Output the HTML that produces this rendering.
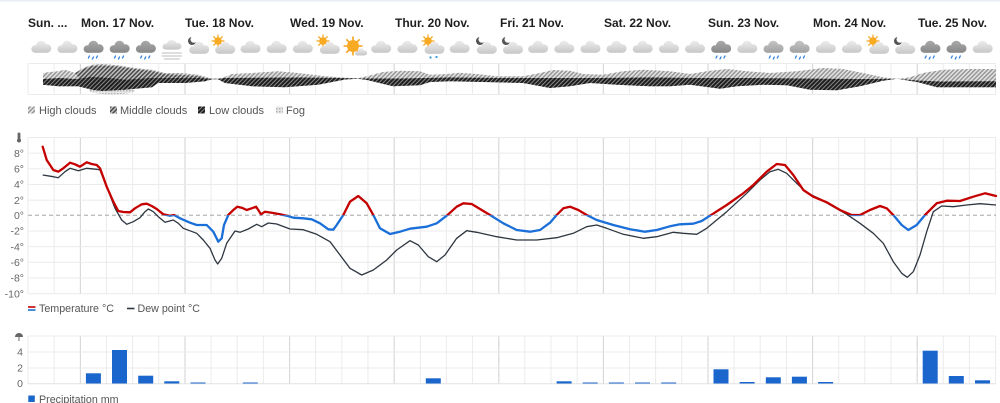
<!DOCTYPE html>
<html><head><meta charset="utf-8"><style>
html,body{margin:0;padding:0;background:#fff;}
body{width:1000px;height:403px;overflow:hidden;}
svg{display:block;font-family:"Liberation Sans",Arial,sans-serif;}
</style></head><body>
<svg width="1000" height="403" viewBox="0 0 1000 403" xmlns="http://www.w3.org/2000/svg">
<defs>
<linearGradient id="gl" gradientUnits="userSpaceOnUse" x1="0" y1="-6" x2="0" y2="6"><stop offset="0" stop-color="#ececec"/><stop offset="1" stop-color="#c6c6c6"/></linearGradient>
<linearGradient id="gd" gradientUnits="userSpaceOnUse" x1="0" y1="-6" x2="0" y2="6"><stop offset="0" stop-color="#a9a9a9"/><stop offset="1" stop-color="#878787"/></linearGradient>
<linearGradient id="gm" gradientUnits="userSpaceOnUse" x1="0" y1="-6" x2="0" y2="6"><stop offset="0" stop-color="#c4c4c4"/><stop offset="1" stop-color="#a0a0a0"/></linearGradient>
<g id="c"><circle cx="-6" cy="2" r="3.8" fill="url(#gl)"/><circle cx="0" cy="-1" r="5.2" fill="url(#gl)"/><circle cx="6" cy="1.5" r="4.2" fill="url(#gl)"/><rect x="-6" y="1.5" width="12" height="4.3" fill="url(#gl)"/></g>
<g id="cd"><circle cx="-6" cy="2" r="3.8" fill="url(#gd)"/><circle cx="0" cy="-1" r="5.2" fill="url(#gd)"/><circle cx="6" cy="1.5" r="4.2" fill="url(#gd)"/><rect x="-6" y="1.5" width="12" height="4.3" fill="url(#gd)"/></g>
<g id="cm"><circle cx="-6" cy="2" r="3.8" fill="url(#gm)"/><circle cx="0" cy="-1" r="5.2" fill="url(#gm)"/><circle cx="6" cy="1.5" r="4.2" fill="url(#gm)"/><rect x="-6" y="1.5" width="12" height="4.3" fill="url(#gm)"/></g>
<g id="rd" stroke="#2f7fe0" stroke-width="1.3" stroke-linecap="round"><line x1="-4" y1="9" x2="-5" y2="11"/><line x1="0" y1="10" x2="-1" y2="12"/><line x1="4" y1="9" x2="3" y2="11"/></g>
<g id="sun"><g stroke="#f5a21b" stroke-width="1.2"><line x1="0" y1="-6.5" x2="0" y2="6.5"/><line x1="-6.5" y1="0" x2="6.5" y2="0"/><line x1="-4.6" y1="-4.6" x2="4.6" y2="4.6"/><line x1="-4.6" y1="4.6" x2="4.6" y2="-4.6"/></g><circle r="3.8" fill="#f7aa22"/></g>
<g id="moon"><circle r="4" fill="#555"/><circle cx="1.9" cy="-1.6" r="3.4" fill="#fff"/></g>
<pattern id="ph" width="3" height="3" patternUnits="userSpaceOnUse" patternTransform="rotate(45)"><rect width="3" height="3" fill="#e4e4e4"/><rect width="1.5" height="3" fill="#979797"/></pattern>
<pattern id="pm" width="3" height="3" patternUnits="userSpaceOnUse" patternTransform="rotate(45)"><rect width="3" height="3" fill="#c8c8c8"/><rect width="1.6" height="3" fill="#4a4a4a"/></pattern>
<pattern id="pl" width="3" height="3" patternUnits="userSpaceOnUse" patternTransform="rotate(45)"><rect width="3" height="3" fill="#8a8a8a"/><rect width="2" height="3" fill="#1e1e1e"/></pattern>
<pattern id="pf" width="3" height="3" patternUnits="userSpaceOnUse"><rect width="3" height="3" fill="#e6e6e6"/><rect width="1.5" height="1.5" fill="#b4b4b4"/></pattern>
<g id="vl" fill="#ebebeb">
<rect x="27.5" y="0" width="1" height="1"/><rect x="53.65" y="0" width="1" height="1"/><rect x="105.95" y="0" width="1" height="1"/><rect x="132.1" y="0" width="1" height="1"/><rect x="158.25" y="0" width="1" height="1"/><rect x="210.55" y="0" width="1" height="1"/><rect x="236.7" y="0" width="1" height="1"/><rect x="262.85" y="0" width="1" height="1"/><rect x="315.15" y="0" width="1" height="1"/><rect x="341.3" y="0" width="1" height="1"/><rect x="367.45" y="0" width="1" height="1"/><rect x="419.75" y="0" width="1" height="1"/><rect x="445.9" y="0" width="1" height="1"/><rect x="472.05" y="0" width="1" height="1"/><rect x="524.35" y="0" width="1" height="1"/><rect x="550.5" y="0" width="1" height="1"/><rect x="576.65" y="0" width="1" height="1"/><rect x="628.95" y="0" width="1" height="1"/><rect x="655.1" y="0" width="1" height="1"/><rect x="681.25" y="0" width="1" height="1"/><rect x="733.55" y="0" width="1" height="1"/><rect x="759.7" y="0" width="1" height="1"/><rect x="785.85" y="0" width="1" height="1"/><rect x="838.15" y="0" width="1" height="1"/><rect x="864.3" y="0" width="1" height="1"/><rect x="890.45" y="0" width="1" height="1"/><rect x="942.75" y="0" width="1" height="1"/><rect x="968.9" y="0" width="1" height="1"/><rect x="995.05" y="0" width="1" height="1"/>
<g fill="#d9d9d9"><rect x="79.8" y="0" width="1.2" height="1"/><rect x="184.4" y="0" width="1.2" height="1"/><rect x="289" y="0" width="1.2" height="1"/><rect x="393.6" y="0" width="1.2" height="1"/><rect x="498.2" y="0" width="1.2" height="1"/><rect x="602.8" y="0" width="1.2" height="1"/><rect x="707.4" y="0" width="1.2" height="1"/><rect x="812" y="0" width="1.2" height="1"/><rect x="916.6" y="0" width="1.2" height="1"/></g>
</g>
<clipPath id="above"><rect x="0" y="0" width="1000" height="215.3"/></clipPath>
<clipPath id="below"><rect x="0" y="215.3" width="1000" height="200"/></clipPath>
</defs>

<rect x="0" y="0" width="1000" height="1.5" fill="#e9eef6"/>

<!-- Day labels -->
<g font-size="12" font-weight="bold" fill="#1f1f1f">
<text x="28" y="27">Sun. ...</text>
<text x="81" y="27">Mon. 17 Nov.</text>
<text x="185" y="27">Tue. 18 Nov.</text>
<text x="290" y="27">Wed. 19 Nov.</text>
<text x="395" y="27">Thur. 20 Nov.</text>
<text x="500" y="27">Fri. 21 Nov.</text>
<text x="604" y="27">Sat. 22 Nov.</text>
<text x="708" y="27">Sun. 23 Nov.</text>
<text x="813" y="27">Mon. 24 Nov.</text>
<text x="918" y="27">Tue. 25 Nov.</text>
</g>

<!-- Icons -->
<use href="#c" x="41.1" y="47"/>
<use href="#c" x="67.2" y="47"/>
<use href="#cd" x="93.4" y="47"/><use href="#rd" x="93.4" y="47"/>
<use href="#cd" x="119.5" y="47"/><use href="#rd" x="119.5" y="47"/>
<use href="#cd" x="145.7" y="47"/><use href="#rd" x="145.7" y="47"/>
<g transform="translate(171.8,45)"><use href="#c" transform="scale(0.95,0.8)"/><g stroke="#c9c9c9" stroke-width="1.2"><line x1="-10" y1="8" x2="10" y2="8"/><line x1="-10" y1="11" x2="10" y2="11"/><line x1="-8" y1="14" x2="8" y2="14"/></g></g>
<use href="#moon" x="192" y="41"/><use href="#c" x="199" y="48"/>
<use href="#sun" x="218" y="41" transform="scale(1)"/><use href="#c" x="225" y="48"/>
<use href="#c" x="250.3" y="47"/>
<use href="#c" x="276.4" y="47"/>
<use href="#c" x="302.6" y="47"/>
<use href="#sun" x="323" y="41"/><use href="#c" x="329.7" y="48"/>
<g transform="translate(353,46)"><g stroke="#f5a21b" stroke-width="1.6"><line x1="0" y1="-9.5" x2="0" y2="9.5"/><line x1="-9.5" y1="0" x2="9.5" y2="0"/><line x1="-6.7" y1="-6.7" x2="6.7" y2="6.7"/><line x1="-6.7" y1="6.7" x2="6.7" y2="-6.7"/></g><circle r="6" fill="#f7aa22"/></g>
<use href="#c" transform="translate(361,52) scale(0.6)"/>
<use href="#c" x="381" y="47"/>
<use href="#c" x="407.2" y="47"/>
<use href="#sun" x="428" y="41"/><use href="#c" x="434.3" y="48"/><circle cx="430.5" cy="57.5" r="1.1" fill="#2f9be8"/><circle cx="436.5" cy="57" r="1.1" fill="#2f9be8"/>
<use href="#c" x="459.5" y="47"/>
<use href="#moon" x="480" y="41"/><use href="#c" x="486.6" y="48"/>
<use href="#moon" x="506" y="41"/><use href="#c" x="512.8" y="48"/>
<use href="#c" x="537.9" y="47"/>
<use href="#c" x="564.1" y="47"/>
<use href="#c" x="590.2" y="47"/>
<use href="#c" x="616.4" y="47"/>
<use href="#c" x="642.5" y="47"/>
<use href="#c" x="668.7" y="47"/>
<use href="#c" x="694.8" y="47"/>
<use href="#cd" x="721" y="47"/><use href="#rd" x="721" y="47"/>
<use href="#c" x="747.1" y="47"/>
<use href="#cm" x="773.3" y="47"/><use href="#rd" x="774.3" y="47"/>
<use href="#cm" x="799.4" y="47"/><use href="#rd" x="800.4" y="47"/>
<use href="#c" x="825.6" y="47"/>
<use href="#c" x="851.7" y="47"/>
<use href="#sun" x="873" y="41"/><use href="#c" x="879" y="48"/>
<use href="#moon" x="898" y="41"/><use href="#c" x="905" y="48"/>
<use href="#cd" x="930.2" y="47"/><use href="#rd" x="930.2" y="47"/>
<use href="#cd" x="956.3" y="47"/><use href="#rd" x="956.3" y="47"/>
<use href="#c" x="982.5" y="47"/>

<!-- Cloud band -->
<use href="#vl" transform="translate(0,63) scale(1,31)"/>
<line x1="28" y1="63.5" x2="996" y2="63.5" stroke="#ebebeb" stroke-width="1"/>
<line x1="28" y1="94.5" x2="996" y2="94.5" stroke="#ebebeb" stroke-width="1"/>
<ellipse cx="112" cy="90.5" rx="23" ry="3.8" fill="url(#pf)"/>
<path fill="url(#ph)" d="M43,79 L43,73 L50,72 L58,71.3 L65,69.7 L75,73 L83,68 L92,64.7 L102,64 L118,65.3 L135,68 L152,69.7 L165,73 L182,73 L198,74.7 L207,77.3 L212,78.7 L218,78.8 L222,78 L232,74 L252,73 L278,71.3 L298,73 L325,76.3 L345,77.8 L358,78.3 L367,76.3 L383,72 L400,70.7 L420,71.3 L430,74.7 L447,74 L460,72.7 L477,74 L497,76.3 L523,76.3 L540,73 L553,70 L570,70.7 L583,74 L603,74.7 L623,71.3 L643,69.7 L670,71.3 L690,74 L710,70.7 L727,69 L747,71.3 L770,73 L797,71.3 L823,68 L843,69 L863,73 L883,77.3 L897,79 L910,77.3 L923,73 L943,69.7 L970,69 L996,69 L996,87.3 L937,87.3 L917,82 L897,78.7 L883,80.7 L860,86.3 L837,90.3 L810,89.7 L787,85.3 L763,84.7 L737,86.3 L720,88.7 L690,84.7 L670,86.3 L650,86.3 L617,84.7 L590,83 L570,86.3 L550,88 L523,83 L483,82 L450,81.3 L430,82 L420,85.3 L393,86.3 L367,80 L358,78.8 L345,79.5 L318,84.7 L285,87.3 L252,86.3 L225,83 L218,79.2 L212,79.3 L205,81.3 L185,83 L158,83 L152,87.3 L125,89.7 L102,91 L92,89.7 L78,86.3 L58,86.3 L43,84.7 Z"/>
<path fill="url(#pm)" d="M75,73 L83,69 L92,66 L102,65.5 L118,66.5 L135,69 L152,71 L165,74 L182,75 L198,76 L205,78 L198,79 L165,79 L150,79.5 L125,80 L100,79 L80,79 Z"/>
<path fill="url(#pl)" d="M43,79 L60,78 L75,79 L92,77 L110,78 L125,79.7 L150,78 L200,78 L208,78.5 L212,78.8 L218,78.8 L225,78 L300,77.5 L340,78 L358,78.5 L367,78.5 L400,78.5 L450,77.5 L500,78 L550,78 L600,78 L650,77.5 L700,78 L750,78 L800,78.5 L860,79 L897,78.8 L917,80.5 L940,81.5 L996,81.3 L996,87.3 L937,87.3 L917,82 L897,78.7 L883,80.7 L860,86.3 L837,90.3 L810,89.7 L787,85.3 L763,84.7 L737,86.3 L720,88.7 L690,84.7 L670,86.3 L650,86.3 L617,84.7 L590,83 L570,86.3 L550,88 L523,83 L483,82 L450,81.3 L430,82 L420,85.3 L393,86.3 L367,80 L358,78.8 L345,79.5 L318,84.7 L285,87.3 L252,86.3 L225,83 L218,79.2 L212,79.3 L205,81.3 L185,83 L158,83 L152,87.3 L125,89.7 L102,91 L92,89.7 L78,86.3 L58,86.3 L43,84.7 Z"/>

<!-- Cloud legend -->
<rect x="28" y="106.5" width="7" height="7" fill="url(#ph)"/>
<rect x="110" y="106.5" width="7" height="7" fill="url(#pm)"/>
<rect x="198" y="106.5" width="7" height="7" fill="url(#pl)"/>
<rect x="276" y="106.5" width="7" height="7" fill="url(#pf)"/>
<g font-size="11" fill="#555">
<text x="39" y="114">High clouds</text>
<text x="120" y="114">Middle clouds</text>
<text x="209" y="114">Low clouds</text>
<text x="286" y="114">Fog</text>
</g>

<!-- Temperature chart grid -->
<use href="#vl" transform="translate(0,137.5) scale(1,156.2)"/>
<g stroke="#ebebeb" stroke-width="1">
<line x1="28" y1="137.5" x2="996" y2="137.5"/><line x1="28" y1="153.1" x2="996" y2="153.1"/><line x1="28" y1="168.8" x2="996" y2="168.8"/><line x1="28" y1="184.5" x2="996" y2="184.5"/><line x1="28" y1="200.1" x2="996" y2="200.1"/><line x1="28" y1="231" x2="996" y2="231"/><line x1="28" y1="246.6" x2="996" y2="246.6"/><line x1="28" y1="262.3" x2="996" y2="262.3"/><line x1="28" y1="278" x2="996" y2="278"/><line x1="28" y1="293.7" x2="996" y2="293.7"/>
</g>
<line x1="28" y1="215.3" x2="996" y2="215.3" stroke="#bdbdbd" stroke-width="1.3" stroke-dasharray="4,3"/>
<g font-size="10.5" fill="#666" text-anchor="end">
<text x="24" y="157">8°</text><text x="24" y="172.5">6°</text><text x="24" y="188.2">4°</text><text x="24" y="203.8">2°</text><text x="24" y="219">0°</text><text x="24" y="234.7">-2°</text><text x="24" y="250.3">-4°</text><text x="24" y="266">-6°</text><text x="24" y="281.7">-8°</text><text x="24" y="297.4">-10°</text>
</g>
<rect x="17.6" y="132.5" width="2.8" height="7" rx="1.4" fill="#666"/><circle cx="19" cy="140.5" r="2" fill="#666"/>

<!-- Dew point -->
<path fill="none" stroke="#2e3640" stroke-width="1.3" stroke-linejoin="round" d="M42.7,175 L53.3,176.7 L58.3,177.7 L65,171.7 L70,168.3 L78.3,170.7 L86.7,168.3 L96.7,169.3 L100,170 L106.7,186.7 L115,208.3 L121.7,220 L126.7,224.3 L133.3,221.7 L140,217.7 L145,211.7 L148.3,209 L153.3,211.7 L158.3,216.7 L165,222.3 L173.3,220 L178.3,223.3 L183.3,228.3 L196.7,233.3 L203.3,240 L210,248.3 L215,260 L217.7,264 L221.7,258.3 L226.7,243.3 L235,231 L240,232.3 L248.3,229 L256.7,224.3 L261.7,226.7 L268.3,223 L276.7,224 L290,229 L303.3,229.7 L316.7,234.3 L330,241.7 L340,255 L350,268.3 L361.7,275 L373.3,270 L386.7,260 L396.7,250 L410,240.7 L418.3,245 L428.3,256.7 L436.7,261.7 L445,255 L456.7,238.3 L466.7,230.7 L476.7,232.3 L496.7,236.7 L516.7,240 L536.7,240 L556.7,237.7 L573.3,233.3 L586.7,226.7 L596.7,225 L606.7,228.3 L623.3,234.3 L643.3,238.3 L656.7,236.7 L673.3,232.3 L683.3,233.3 L696.7,234.3 L706.7,228.3 L726.7,211.7 L746.7,193.3 L760,180 L770,171.7 L778.3,169.3 L786.7,173.3 L796.7,183.3 L806.7,192.7 L820,199 L833.3,206.7 L846.7,214.3 L860,223.3 L873.3,233.3 L883.3,243.3 L893.3,261.7 L901.7,273.3 L907.3,277.3 L913.3,271.7 L920,255 L926.7,231.7 L933.3,211.7 L941.7,206 L953.3,206.7 L966.7,205 L980,203.7 L996,205"/>

<!-- Temperature -->
<g id="tp-wrap">
<path id="tp" fill="none" stroke="#c40000" stroke-width="2.3" stroke-linejoin="round" stroke-linecap="round" clip-path="url(#above)" d="M42.7,146.7 L46.7,160 L53.3,170 L58.3,171.7 L63.3,168.3 L70,162.7 L75,164.3 L80,166.7 L86.7,162.3 L91.7,164 L96.7,165 L100,168.3 L106.7,186.7 L113.3,201.7 L118.3,211 L123.3,212 L130,212.3 L135,208.3 L141.7,204.3 L146.7,203.7 L151.7,206 L156.7,209 L163.3,214.3 L170,215.7 L174,215 L180,218.3 L190,222.7 L196.7,225 L206.7,225 L213.3,231.7 L218.3,241.7 L221.7,238.3 L224,225 L228.3,215 L233.3,210 L237.3,206.7 L241.7,207.7 L246.7,210 L251.7,208.3 L256,206.7 L258.3,210 L261,214.3 L265,211.7 L271.7,212.7 L280,214.3 L286.7,215.7 L293.3,217.7 L303.3,218.3 L311.7,219.3 L320,223.3 L328.3,229.3 L333.3,229.7 L336.7,225 L343.3,215 L350,201.7 L358.3,196 L366.7,203.3 L373.3,215 L380,228.3 L390,234 L400,231.7 L410,228.7 L426.7,226.7 L436.7,223.3 L446.7,215.7 L456.7,206.7 L463.3,203.3 L471.7,204 L480,209 L490,215 L503.3,223.3 L516.7,230 L530,231.7 L540,230 L550,222.7 L556.7,215 L563.3,208.3 L570,206.7 L578.3,210 L586.7,215 L596.7,220 L613.3,225 L630,229.3 L645,231.7 L656.7,230 L670,226.3 L680,224.3 L693.3,223.7 L701.7,221 L710,215.7 L726.7,205 L743.3,193.3 L753.3,185 L766.7,171.7 L776.7,164 L785,165 L793.3,175 L803.3,190 L813.3,196.7 L826.7,202.3 L840,210 L851.7,215 L860,215 L870,210 L880,206 L886.7,208.3 L893.3,215 L901.7,225 L908.3,230 L916.7,225 L925,215 L936.7,203.3 L946.7,200.7 L960,201 L973.3,196.7 L985,193.3 L996,196"/>
</g>
<path fill="none" stroke="#1b6fd8" stroke-width="2.3" stroke-linejoin="round" stroke-linecap="round" clip-path="url(#below)" d="M42.7,146.7 L46.7,160 L53.3,170 L58.3,171.7 L63.3,168.3 L70,162.7 L75,164.3 L80,166.7 L86.7,162.3 L91.7,164 L96.7,165 L100,168.3 L106.7,186.7 L113.3,201.7 L118.3,211 L123.3,212 L130,212.3 L135,208.3 L141.7,204.3 L146.7,203.7 L151.7,206 L156.7,209 L163.3,214.3 L170,215.7 L174,215 L180,218.3 L190,222.7 L196.7,225 L206.7,225 L213.3,231.7 L218.3,241.7 L221.7,238.3 L224,225 L228.3,215 L233.3,210 L237.3,206.7 L241.7,207.7 L246.7,210 L251.7,208.3 L256,206.7 L258.3,210 L261,214.3 L265,211.7 L271.7,212.7 L280,214.3 L286.7,215.7 L293.3,217.7 L303.3,218.3 L311.7,219.3 L320,223.3 L328.3,229.3 L333.3,229.7 L336.7,225 L343.3,215 L350,201.7 L358.3,196 L366.7,203.3 L373.3,215 L380,228.3 L390,234 L400,231.7 L410,228.7 L426.7,226.7 L436.7,223.3 L446.7,215.7 L456.7,206.7 L463.3,203.3 L471.7,204 L480,209 L490,215 L503.3,223.3 L516.7,230 L530,231.7 L540,230 L550,222.7 L556.7,215 L563.3,208.3 L570,206.7 L578.3,210 L586.7,215 L596.7,220 L613.3,225 L630,229.3 L645,231.7 L656.7,230 L670,226.3 L680,224.3 L693.3,223.7 L701.7,221 L710,215.7 L726.7,205 L743.3,193.3 L753.3,185 L766.7,171.7 L776.7,164 L785,165 L793.3,175 L803.3,190 L813.3,196.7 L826.7,202.3 L840,210 L851.7,215 L860,215 L870,210 L880,206 L886.7,208.3 L893.3,215 L901.7,225 L908.3,230 L916.7,225 L925,215 L936.7,203.3 L946.7,200.7 L960,201 L973.3,196.7 L985,193.3 L996,196"/>

<!-- Temp legend -->
<line x1="28" y1="307" x2="35.5" y2="307" stroke="#c40000" stroke-width="1.6"/>
<line x1="28" y1="310" x2="35.5" y2="310" stroke="#1b6fd8" stroke-width="1.6"/>
<line x1="127" y1="308.5" x2="134.5" y2="308.5" stroke="#2e3640" stroke-width="1.6"/>
<g font-size="10.7" fill="#555">
<text x="39" y="312">Temperature °C</text>
<text x="137.5" y="312">Dew point °C</text>
</g>

<!-- Precipitation chart -->
<use href="#vl" transform="translate(0,336) scale(1,47.5)"/>
<g stroke="#ebebeb" stroke-width="1">
<line x1="28" y1="336" x2="996" y2="336"/><line x1="28" y1="352" x2="996" y2="352"/><line x1="28" y1="368" x2="996" y2="368"/>
</g>
<line x1="28" y1="383.8" x2="996" y2="383.8" stroke="#e2e2e2" stroke-width="1"/>
<g font-size="10.5" fill="#666" text-anchor="end">
<text x="23" y="355.7">4</text><text x="23" y="371.7">2</text><text x="23" y="387.2">0</text>
</g>
<g fill="#666"><path d="M15,337 A4,4 0 0 1 23,337 Z"/><rect x="18.5" y="336.5" width="1" height="4.5"/></g>
<g fill="#1a66cc">
<rect x="85.9" y="373.3" width="15" height="10.2"/>
<rect x="112" y="350" width="15" height="33.5"/>
<rect x="138.2" y="375.7" width="15" height="7.8"/>
<rect x="164.3" y="381.3" width="15" height="2.2"/>
<rect x="190.5" y="382.5" width="15" height="1"/>
<rect x="242.8" y="382.5" width="15" height="1"/>
<rect x="425.8" y="378.3" width="15" height="5.2"/>
<rect x="556.6" y="381.3" width="15" height="2.2"/>
<rect x="582.7" y="382.5" width="15" height="1"/>
<rect x="608.9" y="382.5" width="15" height="1"/>
<rect x="635" y="382.5" width="15" height="1"/>
<rect x="661.2" y="382.5" width="15" height="1"/>
<rect x="713.5" y="369.3" width="15" height="14.2"/>
<rect x="739.6" y="382" width="15" height="1.5"/>
<rect x="765.8" y="377.3" width="15" height="6.2"/>
<rect x="791.9" y="376.7" width="15" height="6.8"/>
<rect x="818.1" y="382" width="15" height="1.5"/>
<rect x="922.7" y="350.7" width="15" height="32.8"/>
<rect x="948.8" y="376" width="15" height="7.5"/>
<rect x="975" y="380.3" width="15" height="3.2"/>
</g>
<rect x="28.3" y="395.5" width="6.5" height="6.5" fill="#1a66cc"/>
<text x="39" y="403" font-size="10.7" fill="#555">Precipitation mm</text>
</svg>
</body></html>
